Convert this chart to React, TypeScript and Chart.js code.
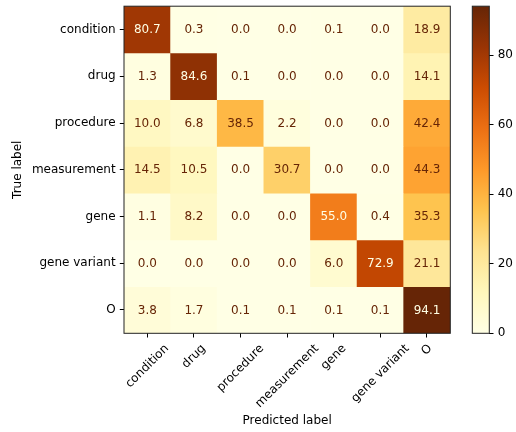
import React, { useEffect, useRef } from "react";
import { Chart, registerables } from "chart.js";

Chart.register(...registerables);

// ---------- data ----------
const trueLabels = ["condition", "drug", "procedure", "measurement", "gene", "gene variant", "O"];
const predLabels = ["condition", "drug", "procedure", "measurement", "gene", "gene variant", "O"];

const rowCondition = [80.7, 0.3, 0.0, 0.0, 0.1, 0.0, 18.9];
const rowDrug = [1.3, 84.6, 0.1, 0.0, 0.0, 0.0, 14.1];
const rowProcedure = [10.0, 6.8, 38.5, 2.2, 0.0, 0.0, 42.4];
const rowMeasurement = [14.5, 10.5, 0.0, 30.7, 0.0, 0.0, 44.3];
const rowGene = [1.1, 8.2, 0.0, 0.0, 55.0, 0.4, 35.3];
const rowGeneVariant = [0.0, 0.0, 0.0, 0.0, 6.0, 72.9, 21.1];
const rowO = [3.8, 1.7, 0.1, 0.1, 0.1, 0.1, 94.1];

const matrix = [rowCondition, rowDrug, rowProcedure, rowMeasurement, rowGene, rowGeneVariant, rowO];
const colorbarTicks = [0, 20, 40, 60, 80];

// ---------- colour map (YlOrBr) ----------
const YLORBR = ["#ffffe5", "#fff7bc", "#fee391", "#fec44f", "#fe9929", "#ec7014", "#cc4c02", "#993404", "#662506"];
const hexToRgb = (h: string) => [parseInt(h.slice(1, 3), 16), parseInt(h.slice(3, 5), 16), parseInt(h.slice(5, 7), 16)];
const STOPS = YLORBR.map(hexToRgb);
function cmap(t: number): string {
  const tt = Math.min(1, Math.max(0, t)) * (STOPS.length - 1);
  const i = Math.min(STOPS.length - 2, Math.floor(tt));
  const f = tt - i;
  const a = STOPS[i], b = STOPS[i + 1];
  const c = a.map((v, k) => Math.round(v + (b[k] - v) * f));
  return `rgb(${c[0]},${c[1]},${c[2]})`;
}

const allVals = matrix.flat();
const vmin = Math.min(...allVals);
const vmax = Math.max(...allVals);
const thresh = (vmin + vmax) / 2;
const FONT = "DejaVu Sans";
const FS = 12;
const TICK = 4.2;
const PAD = 4.2;

// layout (pixels)
const W = 516, H = 432;
const AX_LEFT = 124, AX_RIGHT = 450.3, AX_TOP = 6.2, AX_BOTTOM = 333.3;
const CB_LEFT = 472.3, CB_RIGHT = 489.3;

const framePlugin = {
  id: "frame",
  afterDraw(chart: any) {
    const { ctx, chartArea: a } = chart;
    ctx.save();
    ctx.strokeStyle = "#222";
    ctx.lineWidth = 1;
    ctx.strokeRect(a.left, a.top, a.right - a.left, a.bottom - a.top);
    ctx.restore();
  },
};

const cellTextPlugin = {
  id: "cellText",
  afterDatasetsDraw(chart: any) {
    const { ctx } = chart;
    ctx.save();
    ctx.font = `${FS}px '${FONT}'`;
    ctx.textAlign = "center";
    ctx.textBaseline = "middle";
    chart.data.datasets.forEach((ds: any, r: number) => {
      const meta = chart.getDatasetMeta(r);
      meta.data.forEach((el: any, c: number) => {
        const v = ds.values[c];
        const p = el.getCenterPoint();
        ctx.fillStyle = v < thresh ? YLORBR[8] : YLORBR[0];
        ctx.fillText(v.toFixed(1), p.x, p.y + 0.5);
      });
    });
    ctx.restore();
  },
};

const xLabelPlugin = {
  id: "xLabels",
  afterDraw(chart: any) {
    const { ctx, chartArea } = chart;
    const xs = chart.scales.x;
    ctx.save();
    ctx.font = `${FS}px '${FONT}'`;
    ctx.fillStyle = "#000";
    ctx.textAlign = "center";
    ctx.textBaseline = "middle";
    const h = FS * 1.164;
    predLabels.forEach((lab, i) => {
      const x = xs.getPixelForTick(i);
      const w = ctx.measureText(lab).width;
      const s = (w + h) * Math.SQRT1_2;
      const top = chartArea.bottom + TICK + PAD;
      ctx.save();
      ctx.translate(x, top + s / 2);
      ctx.rotate(-Math.PI / 4);
      ctx.fillText(lab, 0, 0);
      ctx.restore();
    });
    ctx.restore();
  },
};

export default function App() {
  const mainRef = useRef<HTMLCanvasElement>(null);
  const cbRef = useRef<HTMLCanvasElement>(null);

  useEffect(() => {
    Chart.defaults.font.family = FONT;
    Chart.defaults.font.size = FS;
    Chart.defaults.color = "#000";

    const datasets = matrix.map((row, r) => ({
      label: trueLabels[r],
      data: row.map(() => [r - 0.5, r + 0.5]),
      values: row,
      backgroundColor: row.map((v) => cmap((v - vmin) / (vmax - vmin))),
      borderWidth: 0,
      categoryPercentage: 1,
      barPercentage: 1,
      grouped: false,
    }));

    const main = new Chart(mainRef.current!, {
      type: "bar",
      data: { labels: predLabels, datasets: datasets as any },
      options: {
        animation: false,
        responsive: false,
        devicePixelRatio: 1,
        layout: { padding: { left: 0, right: W - AX_RIGHT, top: AX_TOP, bottom: 0 } },
        plugins: { legend: { display: false }, tooltip: { enabled: false }, title: { display: false } },
        scales: {
          x: {
            type: "category",
            offset: true,
            grid: { display: true, drawOnChartArea: false, drawTicks: true, tickLength: TICK, color: "#000", lineWidth: 1, offset: false },
            border: { display: false },
            ticks: { display: false },
            title: { display: true, text: "Predicted label", color: "#000", font: { size: FS, family: FONT }, padding: { top: 0, bottom: 4 } },
            afterFit: (s: any) => { s.height = H - AX_BOTTOM; s.paddingLeft = 0; s.paddingRight = 0; },
          },
          y: {
            type: "linear",
            reverse: true,
            min: -0.5,
            max: trueLabels.length - 0.5,
            afterBuildTicks: (s: any) => { s.ticks = trueLabels.map((_, i) => ({ value: i })); },
            ticks: { callback: (v: any) => trueLabels[v as number], color: "#000", padding: PAD, autoSkip: false, font: { size: FS, family: FONT } },
            grid: { display: true, drawOnChartArea: false, drawTicks: true, tickLength: TICK, color: "#000", lineWidth: 1 },
            border: { display: false },
            title: { display: true, text: "True label", color: "#000", font: { size: FS, family: FONT }, padding: { top: 11, bottom: 0 } },
            afterFit: (s: any) => { s.width = AX_LEFT; s.paddingTop = 0; s.paddingBottom = 0; },
          },
        },
      },
      plugins: [cellTextPlugin, xLabelPlugin, framePlugin],
    });

    const cb = new Chart(cbRef.current!, {
      type: "bar",
      data: {
        labels: [""],
        datasets: [
          {
            data: [[vmin, vmax]] as any,
            borderWidth: 0,
            categoryPercentage: 1,
            barPercentage: 1,
            backgroundColor: (ctx: any) => {
              const a = ctx.chart.chartArea;
              if (!a) return YLORBR[0];
              const g = ctx.chart.ctx.createLinearGradient(0, a.bottom, 0, a.top);
              YLORBR.forEach((c, i) => g.addColorStop(i / (YLORBR.length - 1), c));
              return g;
            },
          },
        ],
      },
      options: {
        animation: false,
        responsive: false,
        devicePixelRatio: 1,
        layout: { padding: { left: CB_LEFT, right: 0, top: AX_TOP, bottom: H - AX_BOTTOM } },
        plugins: { legend: { display: false }, tooltip: { enabled: false } },
        scales: {
          x: { display: false },
          y: {
            type: "linear",
            position: "right",
            min: vmin,
            max: vmax,
            afterBuildTicks: (s: any) => { s.ticks = colorbarTicks.map((v) => ({ value: v })); },
            ticks: { color: "#000", padding: PAD, font: { size: FS, family: FONT } },
            grid: { display: true, drawOnChartArea: false, drawTicks: true, tickLength: TICK, color: "#000", lineWidth: 1 },
            border: { display: false },
            afterFit: (s: any) => { s.width = W - CB_RIGHT; s.paddingTop = 0; s.paddingBottom = 0; },
          },
        },
      },
      plugins: [framePlugin],
    });

    return () => {
      main.destroy();
      cb.destroy();
    };
  }, []);

  return (
    <div style={{ position: "fixed", left: 0, top: 0, width: W, height: H, background: "#fff" }}>
      <canvas ref={mainRef} width={W} height={H} style={{ position: "absolute", left: 0, top: 0, width: W, height: H }} />
      <canvas ref={cbRef} width={W} height={H} style={{ position: "absolute", left: 0, top: 0, width: W, height: H, pointerEvents: "none" }} />
    </div>
  );
}
